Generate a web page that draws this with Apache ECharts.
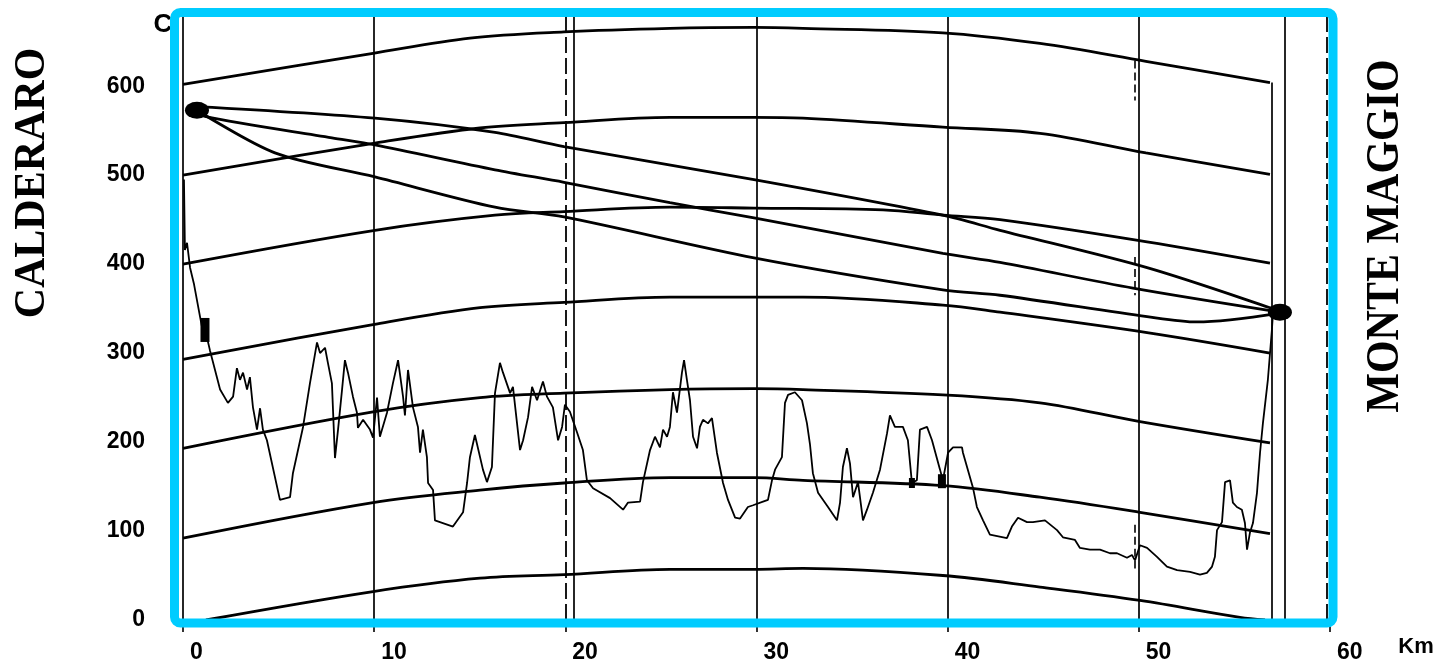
<!DOCTYPE html>
<html><head><meta charset="utf-8">
<script src="https://cdn.jsdelivr.net/npm/echarts@6/dist/echarts.min.js"></script>
<style>html,body{margin:0;padding:0;background:#fff}#c{width:1439px;height:666px}</style>
</head><body><div id="c"></div><script>
// ---- data ----
const xTickLabels = [0, 10, 20, 30, 40, 50, 60];
const yTickLabels = [0, 100, 200, 300, 400, 500, 600];
const siteNames = ['CALDERARO', 'MONTE MAGGIO'];

const profileKm = [0.05,0.10,0.21,0.37,0.58,0.89,1.05,1.26,1.41,1.94,2.35,2.62,2.82,2.98,3.14,3.35,3.50,3.66,3.87,4.03,4.18,4.39,5.07,5.60,5.75,6.28,6.64,7.01,7.17,7.43,7.58,7.79,7.95,8.11,8.32,8.47,8.63,8.89,9.10,9.15,9.42,9.78,9.94,10.15,10.30,10.67,10.98,11.25,11.51,11.61,11.77,12.03,12.29,12.40,12.55,12.76,12.82,13.08,13.18,14.12,14.65,14.86,15.01,15.27,15.69,15.90,16.16,16.32,16.58,16.74,17.11,17.26,17.63,17.79,18.05,18.26,18.52,18.83,19.04,19.35,19.62,19.83,19.98,20.24,20.61,20.92,21.13,21.45,22.34,23.02,23.28,23.91,24.06,24.43,24.69,24.95,25.11,25.32,25.47,25.63,25.84,26.10,26.21,26.36,26.52,26.68,26.89,27.04,27.20,27.46,27.67,27.93,28.25,28.51,28.88,29.14,29.55,29.82,30.34,30.60,30.81,30.97,31.33,31.49,31.65,32.01,32.38,32.64,32.80,32.95,33.22,33.74,34.21,34.37,34.52,34.73,34.89,35.05,35.31,35.57,35.78,36.09,36.46,36.83,36.98,37.24,37.66,37.92,38.13,38.39,38.55,38.92,39.18,39.60,39.75,40.02,40.28,40.75,40.80,41.32,41.53,41.85,42.21,43.10,43.36,43.68,44.15,44.46,45.09,45.72,46.03,46.66,46.92,47.44,47.97,48.49,48.86,49.38,49.64,49.80,50.06,50.43,50.95,51.47,52.00,52.68,53.20,53.56,53.83,53.98,54.09,54.35,54.51,54.77,54.92,55.13,55.39,55.55,55.66,55.81,55.97,56.18,56.34,56.49,56.75,56.96,57.02];
const profileM = [495,416,424,396,377,341,323,317,303,259,244,251,283,270,278,259,273,239,214,238,214,202,135,138,165,217,266,312,300,306,289,266,182,214,259,292,278,251,233,216,225,214,205,250,206,233,266,292,251,230,281,239,217,188,214,183,154,146,112,105,121,154,183,208,169,155,172,255,289,278,255,262,191,202,228,262,247,268,251,239,202,217,242,234,211,191,157,148,137,124,132,133,155,191,206,194,214,206,217,256,233,278,292,270,247,206,193,217,225,221,227,188,154,135,115,114,127,129,133,135,157,169,183,244,253,256,247,221,197,165,143,127,112,132,172,193,176,138,155,112,124,143,169,210,230,217,217,202,154,157,214,217,202,169,157,188,194,194,188,149,127,112,96,92,105,115,110,110,112,101,93,90,81,79,79,75,75,70,73,67,84,81,71,60,56,54,51,53,60,71,101,110,155,157,132,127,124,109,79,98,109,143,188,221,270,326,346];

// earth-curvature reference arcs
const arc600Km = [0, 9.94, 15.01, 19.93, 25.47, 29.87, 32.43, 39.75, 44.83, 50.37, 56.86];
const arc600M  = [602, 637, 654, 661, 665, 666, 665, 660, 648, 628, 604];
const arc500Km = [0, 10.04, 15.54, 19.93, 25.47, 29.87, 32.43, 39.75, 44.83, 50.37, 56.86];
const arc500M  = [500, 536, 553, 559, 565, 565, 564, 554, 547, 525, 501];
const arc400Km = [0, 10.04, 16.32, 19.93, 25.47, 29.87, 36.62, 39.75, 42.74, 50.43, 56.86];
const arc400M  = [400, 438, 455, 459, 464, 463, 461, 455, 450, 425, 401];
const arc300Km = [0, 9.94, 15.54, 19.93, 25.47, 29.87, 32.43, 39.75, 42.74, 50.43, 56.86];
const arc300M  = [293, 332, 351, 357, 363, 363, 363, 354, 346, 323, 300];
const arc200Km = [0, 9.94, 15.54, 19.93, 25.47, 29.87, 32.43, 39.75, 44.83, 50.06, 56.86];
const arc200M  = [193, 234, 250, 255, 259, 260, 259, 253, 244, 223, 199];
const arc100Km = [0, 9.94, 15.54, 19.93, 25.47, 29.87, 32.43, 39.75, 44.83, 50.06, 56.86];
const arc100M  = [92, 132, 146, 154, 160, 160, 157, 151, 138, 121, 97];
const arc0Km   = [1.2, 9.94, 15.54, 19.93, 25.47, 29.87, 32.43, 39.75, 44.83, 50.06, 55.29, 56.6];
const arc0M    = [0, 32, 47, 51, 57, 57, 58, 50, 37, 22, 3, 0];

// line of sight and Fresnel boundaries
const losAKm = [0.73, 10.04, 16.32, 19.93, 29.87, 39.75, 42.74, 50.43, 56.86, 57.38];
const losAM  = [577, 564, 548, 532, 495, 455, 438, 396, 351, 346];
const losBKm = [0.73, 1.15, 7.79, 10.04, 16.32, 19.93, 25.47, 29.87, 39.75, 42.74, 49.69, 57.38];
const losBM  = [575, 566, 542, 534, 506, 492, 469, 452, 412, 402, 373, 346];
const losCKm = [0.73, 4.81, 10.04, 16.32, 19.93, 29.87, 39.75, 42.74, 50.43, 53.04, 57.38];
const losCM  = [573, 525, 498, 464, 453, 407, 371, 365, 341, 335, 345];

// antenna points
const siteKm = [0.73, 57.38];
const siteM  = [573, 346];
// small obstacle marks on the profile
const markKm = [1.15, 39.70, 38.13];
const markM  = [326, 156, 154];

// vertical reference lines (km) and the right site mast
const refLineKm = [0, 10, 20, 20.45, 30, 40, 50, 57.65, 59.85];
const refLineDashed = [false, false, true, false, false, false, false, false, true];
const mastKm = 56.96, mastTopM = 604;
// short dashed survey marks near 49.8 km: [km, from m, to m]
const tickMarks = [[49.8, 629, 584], [49.8, 408, 365], [49.8, 107, 58]];

// ---- chart ----
const zip = (a, b) => a.map((v, i) => [v, b[i]]);
const labelFont = "'Liberation Sans', Arial, sans-serif";
const black = '#000';

const arcs = [[arc600Km, arc600M], [arc500Km, arc500M], [arc400Km, arc400M], [arc300Km, arc300M],
              [arc200Km, arc200M], [arc100Km, arc100M], [arc0Km, arc0M]];
const los = [[losAKm, losAM], [losBKm, losBM], [losCKm, losCM]];

const thickLine = (d) => ({
  type: 'line', data: d, smooth: 0.35, showSymbol: false, symbol: 'none', silent: true,
  lineStyle: { color: black, width: 2.8 }, z: 3
});

const markLineData = refLineKm.map((k, i) => ({
  xAxis: k,
  lineStyle: refLineDashed[i] ? { type: [16, 5], width: 1.8 } : { type: 'solid', width: 1.7 }
}));
markLineData.push([{ coord: [mastKm, mastTopM] }, { coord: [mastKm, 0] }]);
tickMarks.forEach(t => markLineData.push([
  { coord: [t[0], t[1]], lineStyle: { type: [8, 4], width: 1.6 } }, { coord: [t[0], t[2]] }
]));

const series = [
  {
    type: 'line', name: 'profile', data: zip(profileKm, profileM), showSymbol: false, symbol: 'none',
    lineStyle: { color: black, width: 1.8 }, z: 4, silent: true,
    markLine: {
      symbol: 'none', silent: true, animation: false, label: { show: false },
      lineStyle: { color: black, width: 1.7, type: 'solid' },
      data: markLineData
    }
  },
  ...arcs.map(a => thickLine(zip(a[0], a[1]))),
  ...los.map(a => Object.assign(thickLine(zip(a[0], a[1])), { smooth: 0.3 })),
  {
    type: 'scatter', data: zip(siteKm, siteM), symbol: 'circle', symbolSize: [24, 17],
    itemStyle: { color: black, opacity: 1 }, z: 6, silent: true
  },
  {
    type: 'scatter', data: zip(markKm, markM).map((v, i) => ({ value: v, symbolSize: i === 0 ? [9, 24] : (i === 1 ? [8, 14] : [6, 10]) })),
    symbol: 'rect', itemStyle: { color: black, opacity: 1 }, z: 6, silent: true
  }
];

const chart = echarts.init(document.getElementById('c'));
chart.setOption({
  animation: false,
  backgroundColor: '#fff',
  grid: { left: 183, right: 109, top: 15, bottom: 46, containLabel: false, outerBoundsMode: 'none' },
  xAxis: {
    type: 'value', min: 0, max: 60, interval: 10,
    axisLine: { show: false },
    axisTick: { show: true, length: 12, lineStyle: { color: black, width: 1.6 } },
    splitLine: { show: false },
    axisLabel: {
      margin: 21, align: 'left', padding: [0, 0, 0, 7], color: black,
      fontSize: 23, fontWeight: 'bold', fontFamily: labelFont,
      formatter: v => xTickLabels.includes(v) ? String(v) : ''
    }
  },
  yAxis: {
    type: 'value', min: 0, max: 680, interval: 100,
    axisLine: { show: false }, axisTick: { show: false }, splitLine: { show: false },
    axisLabel: {
      margin: 38, color: black, fontSize: 23, fontWeight: 'bold', fontFamily: labelFont,
      formatter: v => yTickLabels.includes(v) ? String(v) : ''
    }
  },
  graphic: [
    {
      type: 'rect', z: 100, silent: true,
      shape: { x: 174.5, y: 12.5, width: 1158.5, height: 610.5, r: 6 },
      style: { fill: 'none', stroke: '#00CCFF', lineWidth: 9 }
    },
    {
      type: 'text', x: 33, y: 183, rotation: Math.PI / 2, scaleY: 1.05, z: 100, silent: true,
      style: { text: siteNames[0], font: 'bold 42px "Liberation Serif", "Times New Roman", serif', fill: black,
               align: 'center', verticalAlign: 'middle', textAlign: 'center', textVerticalAlign: 'middle' }
    },
    {
      type: 'text', x: 1386, y: 236, rotation: Math.PI / 2, scaleY: 1.1, z: 100, silent: true,
      style: { text: siteNames[1], font: 'bold 42px "Liberation Serif", "Times New Roman", serif', fill: black,
               align: 'center', verticalAlign: 'middle', textAlign: 'center', textVerticalAlign: 'middle' }
    },
    {
      type: 'text', x: 1416, y: 647, z: 100, silent: true,
      style: { text: 'Km', font: 'bold 22px ' + labelFont, fill: black,
               align: 'center', verticalAlign: 'middle', textAlign: 'center', textVerticalAlign: 'middle' }
    },
    {
      type: 'text', x: 163, y: 25, z: 99, silent: true,
      style: { text: 'C', font: 'bold 26px ' + labelFont, fill: black,
               align: 'center', verticalAlign: 'middle', textAlign: 'center', textVerticalAlign: 'middle' }
    }
  ],
  series: series
});
</script></body></html>
